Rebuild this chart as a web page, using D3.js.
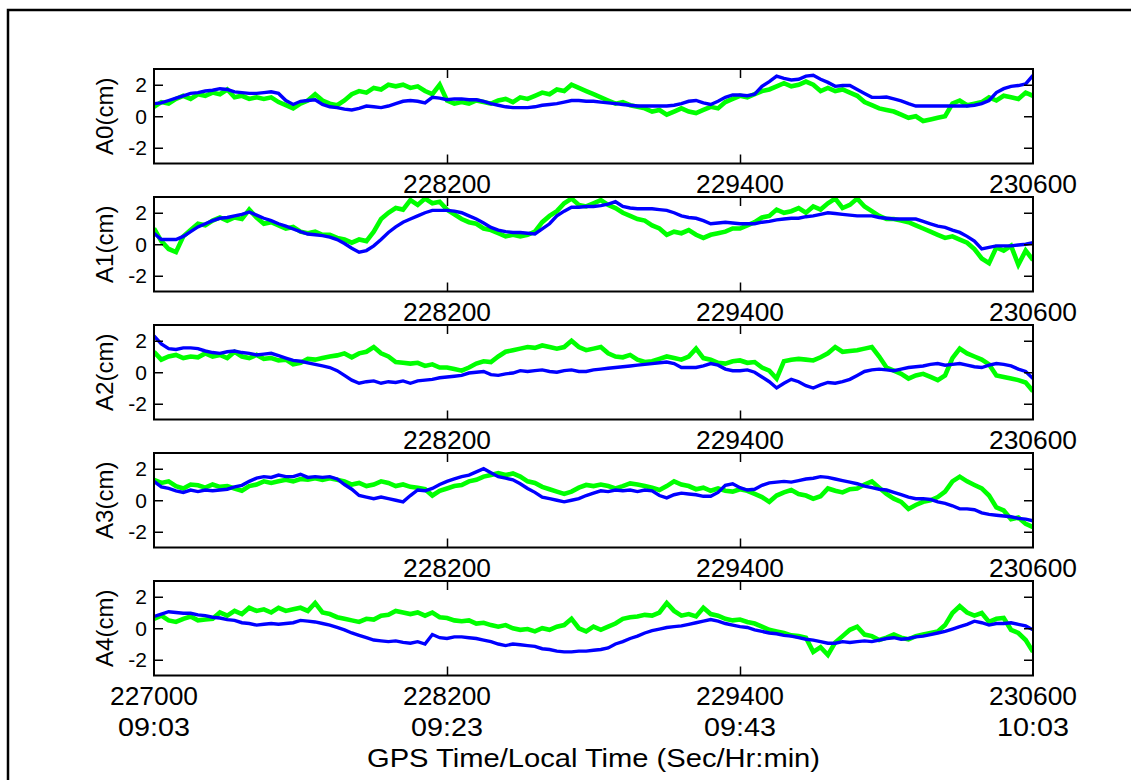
<!DOCTYPE html>
<html>
<head>
<meta charset="utf-8">
<script src="https://cdn.jsdelivr.net/npm/d3@7"></script>
<style>
  html, body { margin: 0; padding: 0; background: #fff; overflow: hidden; }
  svg text { font-family: Arial, "Liberation Sans", Helvetica, sans-serif; fill: #000; }
</style>
</head>
<body>
<svg id="chart" width="1131" height="780"></svg>
<script>
// GPS time of each sample (seconds), one every 30 s
const sampleTimes = d3.range(227000, 230601, 30);

const panelLabels = ["A0(cm)", "A1(cm)", "A2(cm)", "A3(cm)", "A4(cm)"];
const xTickValues = [227000, 228200, 229400, 230600];
const clockLabels = ["09:03", "09:23", "09:43", "10:03"];
const yTickValues = [-2, 0, 2];
const xTitle = "GPS Time/Local Time (Sec/Hr:min)";

// Antenna offsets (cm), green series
const greenA0 = [0.6,0.9,0.8,1.1,1.3,1.1,1.4,1.3,1.5,1.4,
1.7,1.2,1.3,1.1,1.2,1.1,1.2,0.9,0.7,0.5,
0.8,1.0,1.4,1.0,0.8,0.7,1.0,1.4,1.6,1.5,
1.8,1.7,2.0,1.9,2.0,1.8,1.9,1.6,1.4,2.0,
1.0,0.8,0.9,0.8,1.0,0.9,0.8,1.0,1.1,0.9,
1.2,1.1,1.3,1.5,1.4,1.7,1.6,2.0,1.8,1.6,
1.4,1.2,1.0,0.8,0.9,0.7,0.6,0.5,0.3,0.4,
0.1,0.3,0.5,0.3,0.2,0.4,0.6,0.5,0.9,1.1,
1.3,1.2,1.4,1.6,1.7,1.9,2.1,1.9,2.0,2.2,
2.0,1.6,1.8,1.6,1.7,1.5,1.3,0.9,0.7,0.5,
0.4,0.3,0.1,-0.1,0.0,-0.3,-0.2,-0.1,0.0,0.8,
1.0,0.7,0.8,0.9,1.2,1.0,1.3,1.2,1.1,1.5,
1.3];
const greenA1 = [1.0,0.2,-0.3,-0.5,0.5,0.9,1.3,1.2,1.5,1.7,
1.5,1.7,1.6,2.2,1.7,1.3,1.4,1.2,1.0,1.1,
0.8,0.7,0.8,0.6,0.6,0.4,0.3,0.1,0.3,0.2,
0.8,1.6,2.0,2.3,2.2,2.8,2.5,2.9,2.6,2.7,
2.2,1.9,1.6,1.4,1.3,1.0,0.9,0.7,0.5,0.6,
0.5,0.6,0.8,1.4,1.8,2.1,2.6,2.9,2.5,2.4,
2.6,2.8,2.5,2.3,2.0,1.8,1.6,1.5,1.2,1.0,
0.6,0.8,0.7,0.9,0.6,0.4,0.6,0.7,0.8,1.0,
1.0,1.2,1.4,1.7,1.8,2.2,2.0,2.1,2.3,2.0,
2.4,2.2,2.6,2.9,2.3,2.5,2.9,2.4,2.1,1.8,
1.6,1.6,1.5,1.4,1.2,1.0,0.8,0.6,0.4,0.5,
0.3,0.1,-0.3,-0.9,-1.2,-0.2,-0.4,-0.1,-1.3,-0.4,
-1.0];
const greenA2 = [1.3,0.8,1.0,1.1,0.9,1.0,0.95,1.2,1.0,1.1,
0.9,1.3,1.0,0.9,1.1,0.85,0.9,0.75,0.8,0.5,
0.6,0.85,0.8,0.9,1.0,1.07,1.2,0.95,1.2,1.3,
1.6,1.2,1.0,0.65,0.6,0.55,0.6,0.4,0.5,0.3,
0.3,0.2,0.1,0.3,0.55,0.7,0.65,1.0,1.3,1.4,
1.5,1.6,1.55,1.7,1.6,1.5,1.6,2.0,1.6,1.4,
1.5,1.6,1.2,1.0,0.95,1.1,0.8,0.65,0.7,0.85,
1.0,0.9,0.8,1.0,1.5,0.9,0.8,0.6,0.55,0.7,
0.75,0.6,0.65,0.3,0.1,-0.4,0.7,0.8,0.85,0.8,
0.75,0.95,1.2,1.6,1.3,1.35,1.4,1.5,1.6,1.0,
0.3,0.1,-0.1,-0.4,-0.2,-0.1,-0.3,-0.5,-0.2,0.9,
1.5,1.2,1.0,0.8,0.5,-0.2,-0.3,-0.4,-0.5,-0.65,
-1.2];
const greenA3 = [1.3,1.1,1.2,0.9,0.75,1.0,0.95,0.8,1.0,0.85,
0.9,0.75,0.6,0.9,1.0,1.2,1.1,1.2,1.3,1.2,
1.35,1.3,1.4,1.3,1.4,1.3,1.2,1.0,1.1,0.9,
1.0,1.2,1.1,0.9,1.0,0.85,0.8,0.7,0.3,0.6,
0.75,0.9,0.97,1.2,1.3,1.5,1.6,1.72,1.6,1.7,
1.5,1.2,1.1,0.85,0.7,0.55,0.4,0.55,0.8,0.97,
0.9,1.0,0.9,0.75,0.9,1.07,1.0,0.9,0.8,0.65,
0.9,1.2,1.0,0.9,0.7,0.8,0.6,0.75,0.6,0.55,
0.7,0.6,0.4,0.2,-0.1,0.3,0.5,0.65,0.4,0.3,
0.1,0.25,0.75,0.6,0.5,0.7,0.75,1.0,1.2,0.8,
0.4,0.1,-0.1,-0.55,-0.3,-0.1,0.0,0.2,0.55,1.2,
1.5,1.2,0.97,0.75,0.3,-0.45,-0.65,-1.2,-1.1,-1.5,
-1.7];
const greenA4 = [0.6,0.8,0.5,0.4,0.6,0.75,0.5,0.55,0.6,1.0,
0.8,1.1,0.9,1.3,1.1,1.2,1.0,1.3,1.1,1.2,
1.3,1.1,1.6,1.0,0.9,0.7,0.6,0.5,0.4,0.6,
0.55,0.8,0.85,1.1,1.0,0.9,1.0,0.8,1.0,0.7,
0.65,0.5,0.45,0.5,0.3,0.35,0.2,0.1,0.2,0.0,
-0.1,-0.05,-0.2,0.0,-0.1,0.1,0.2,0.6,0.0,-0.2,
0.1,-0.1,0.1,0.3,0.6,0.7,0.75,0.85,0.8,1.0,
1.6,1.1,0.8,0.9,0.75,1.3,0.9,0.8,0.6,0.5,
0.55,0.4,0.3,0.1,-0.1,-0.2,-0.3,-0.45,-0.5,-0.6,
-1.5,-1.2,-1.7,-0.9,-0.5,-0.1,0.1,-0.4,-0.5,-0.75,
-0.6,-0.4,-0.6,-0.7,-0.5,-0.4,-0.3,-0.2,0.2,0.97,
1.4,1.0,0.8,0.97,0.4,0.6,0.65,-0.1,-0.3,-0.75,
-1.5];

// Antenna offsets (cm), blue series
const blueA0 = [0.8,0.85,1.0,1.15,1.3,1.45,1.5,1.6,1.65,1.75,
1.7,1.55,1.5,1.45,1.45,1.5,1.55,1.45,1.0,0.75,
0.95,1.0,1.05,0.75,0.6,0.55,0.45,0.4,0.5,0.65,
0.6,0.55,0.65,0.8,0.95,1.0,0.95,0.85,1.2,1.15,
1.05,1.1,1.1,1.05,1.05,0.95,0.8,0.7,0.6,0.55,
0.55,0.55,0.6,0.7,0.75,0.8,0.9,1.0,1.0,0.95,
0.95,0.9,0.85,0.8,0.75,0.7,0.65,0.65,0.65,0.65,
0.65,0.7,0.8,0.95,1.0,0.85,0.75,0.95,1.2,1.35,
1.35,1.3,1.4,1.9,2.2,2.55,2.4,2.3,2.35,2.55,
2.6,2.35,2.15,1.9,1.95,1.95,1.7,1.45,1.2,1.2,
1.22,1.1,0.97,0.8,0.65,0.65,0.65,0.65,0.65,0.65,
0.65,0.65,0.7,0.8,1.0,1.5,1.75,1.9,1.95,2.05,
2.6];
const blueA1 = [0.7,0.3,0.3,0.3,0.5,0.8,1.1,1.3,1.5,1.65,
1.7,1.8,1.9,2.05,1.85,1.65,1.5,1.3,1.15,0.97,
0.8,0.65,0.6,0.55,0.45,0.3,0.05,-0.25,-0.5,-0.4,
-0.1,0.3,0.75,1.1,1.4,1.6,1.8,2.0,2.15,2.15,
2.15,2.1,2.0,1.8,1.6,1.35,1.07,0.9,0.8,0.75,
0.75,0.7,0.65,0.97,1.3,1.8,2.1,2.35,2.35,2.4,
2.4,2.45,2.55,2.7,2.4,2.3,2.25,2.25,2.25,2.2,
2.15,2.0,1.8,1.7,1.65,1.5,1.3,1.35,1.4,1.35,
1.3,1.3,1.3,1.4,1.45,1.55,1.6,1.65,1.65,1.75,
1.8,1.9,2.0,1.95,1.9,1.85,1.8,1.8,1.8,1.7,
1.65,1.6,1.6,1.6,1.6,1.45,1.3,1.15,1.07,0.9,
0.75,0.5,0.2,-0.3,-0.2,-0.1,-0.1,-0.1,-0.05,0.0,
0.1];
const blueA2 = [2.3,1.8,1.5,1.45,1.55,1.55,1.5,1.35,1.25,1.2,
1.3,1.35,1.25,1.2,1.1,1.15,1.2,1.05,0.9,0.75,
0.7,0.6,0.5,0.4,0.3,0.1,-0.2,-0.5,-0.7,-0.6,
-0.55,-0.7,-0.6,-0.65,-0.55,-0.7,-0.55,-0.5,-0.45,-0.35,
-0.3,-0.25,-0.2,-0.05,0.0,0.05,-0.15,-0.2,-0.1,-0.05,
0.1,0.05,0.1,0.15,0.05,0.0,0.1,0.15,0.05,0.05,
0.15,0.2,0.25,0.3,0.35,0.4,0.45,0.5,0.55,0.6,
0.65,0.55,0.3,0.3,0.3,0.4,0.55,0.45,0.2,0.1,
0.1,0.15,0.0,-0.3,-0.6,-1.0,-0.7,-0.45,-0.6,-0.85,
-1.0,-0.8,-0.65,-0.7,-0.6,-0.45,-0.2,0.05,0.15,0.2,
0.15,0.1,0.2,0.3,0.35,0.4,0.5,0.55,0.45,0.5,
0.55,0.45,0.35,0.3,0.45,0.55,0.5,0.4,0.2,0.05,
-0.4];
const blueA3 = [1.2,0.85,0.75,0.6,0.5,0.65,0.55,0.65,0.6,0.65,
0.7,0.85,0.95,1.2,1.4,1.5,1.45,1.6,1.5,1.5,
1.65,1.45,1.5,1.45,1.5,1.35,1.0,0.7,0.3,0.2,
0.1,0.2,0.1,0.0,-0.1,0.3,0.65,0.6,0.75,1.0,
1.2,1.35,1.5,1.6,1.8,2.0,1.75,1.5,1.4,1.3,
1.05,0.75,0.5,0.2,0.1,0.0,-0.1,0.0,0.1,0.3,
0.45,0.6,0.55,0.65,0.6,0.65,0.55,0.65,0.6,0.3,
0.15,0.35,0.45,0.4,0.35,0.25,0.25,0.5,0.95,1.05,
0.8,0.65,0.7,0.95,1.1,1.15,1.2,1.15,1.25,1.35,
1.4,1.5,1.45,1.35,1.25,1.15,1.05,0.9,0.8,0.7,
0.65,0.5,0.35,0.2,0.1,0.1,0.05,-0.1,-0.2,-0.35,
-0.55,-0.55,-0.6,-0.8,-0.9,-0.95,-1.0,-1.05,-1.15,-1.2,
-1.3];
const blueA4 = [0.75,0.9,1.05,1.0,0.95,0.95,0.85,0.8,0.7,0.65,
0.55,0.5,0.35,0.3,0.2,0.25,0.3,0.25,0.3,0.35,
0.5,0.45,0.4,0.3,0.2,0.05,-0.1,-0.3,-0.45,-0.6,
-0.75,-0.8,-0.85,-0.8,-0.9,-0.95,-0.85,-1.0,-0.4,-0.6,
-0.65,-0.55,-0.55,-0.6,-0.65,-0.75,-0.85,-1.0,-1.1,-1.0,
-1.05,-1.1,-1.15,-1.3,-1.35,-1.45,-1.5,-1.5,-1.45,-1.45,
-1.4,-1.35,-1.25,-1.0,-0.85,-0.65,-0.5,-0.3,-0.15,-0.05,
0.05,0.1,0.15,0.25,0.35,0.45,0.55,0.45,0.3,0.2,
0.1,0.05,-0.1,-0.2,-0.3,-0.35,-0.45,-0.5,-0.6,-0.7,
-0.75,-0.85,-0.95,-0.95,-0.85,-0.9,-0.85,-0.8,-0.85,-0.75,
-0.65,-0.6,-0.7,-0.65,-0.55,-0.5,-0.4,-0.3,-0.2,-0.05,
0.1,0.25,0.45,0.35,0.2,0.3,0.3,0.35,0.25,0.15,
-0.1];

const greenSeries = [greenA0, greenA1, greenA2, greenA3, greenA4];
const blueSeries = [blueA0, blueA1, blueA2, blueA3, blueA4];

// ---- layout ----
const plotLeft = 154, plotRight = 1033;
const firstTop = 69, panelStep = 128, panelH = 94.5;
const tickLen = 9;

const svg = d3.select("#chart");

// page frame (runs off the right and bottom edges)
svg.append("path")
  .attr("d", "M8,790 L8,10 L1140,10")
  .attr("fill", "none").attr("stroke", "#000").attr("stroke-width", 2.5);

const x = d3.scaleLinear().domain([227000, 230600]).range([plotLeft, plotRight]);

panelLabels.forEach((label, k) => {
  const top = firstTop + panelStep * k;
  const bottom = top + panelH;
  const y = d3.scaleLinear().domain([-3, 3]).range([bottom, top]);
  const g = svg.append("g");

  g.append("clipPath").attr("id", "clip" + k)
    .append("rect")
    .attr("x", plotLeft).attr("y", top)
    .attr("width", plotRight - plotLeft).attr("height", panelH);

  const line = d3.line()
    .x((d, i) => x(sampleTimes[i]))
    .y(d => y(d));

  const traces = g.append("g").attr("clip-path", `url(#clip${k})`);
  traces.append("path")
    .datum(greenSeries[k])
    .attr("d", line)
    .attr("fill", "none").attr("stroke", "#00ff00")
    .attr("stroke-width", 4.6).attr("stroke-linejoin", "miter");
  traces.append("path")
    .datum(blueSeries[k])
    .attr("d", line)
    .attr("fill", "none").attr("stroke", "#0000ff")
    .attr("stroke-width", 3.4).attr("stroke-linejoin", "miter");

  // inward ticks on all four sides
  const styleAxis = sel => {
    sel.select(".domain").remove();
    sel.selectAll(".tick line").attr("stroke", "#000").attr("stroke-width", 1.5);
    sel.selectAll(".tick text").remove();
  };
  g.append("g").attr("transform", `translate(${plotLeft},0)`)
    .call(d3.axisLeft(y).tickValues(yTickValues).tickSize(-tickLen)).call(styleAxis);
  g.append("g").attr("transform", `translate(${plotRight},0)`)
    .call(d3.axisRight(y).tickValues(yTickValues).tickSize(-tickLen)).call(styleAxis);
  g.append("g").attr("transform", `translate(0,${bottom})`)
    .call(d3.axisBottom(x).tickValues(xTickValues.slice(1, 3)).tickSize(-tickLen)).call(styleAxis);
  g.append("g").attr("transform", `translate(0,${top})`)
    .call(d3.axisTop(x).tickValues(xTickValues.slice(1, 3)).tickSize(-tickLen)).call(styleAxis);

  // panel frame
  g.append("rect")
    .attr("x", plotLeft).attr("y", top)
    .attr("width", plotRight - plotLeft).attr("height", panelH)
    .attr("fill", "none").attr("stroke", "#000").attr("stroke-width", 2);

  // y tick labels
  g.selectAll("text.ylab").data(yTickValues).join("text")
    .attr("class", "ylab")
    .attr("x", plotLeft - 7).attr("y", d => y(d) + 7.5)
    .attr("text-anchor", "end")
    .attr("font-size", 21)
    .text(d => d3.format("d")(d).replace("−", "-"));

  // panel label
  g.append("text")
    .attr("transform", `translate(113,${(top + bottom) / 2}) rotate(-90)`)
    .attr("text-anchor", "middle")
    .attr("font-size", 24)
    .text(label);

  // x tick labels under the panel
  const isLast = k === panelLabels.length - 1;
  const shown = isLast ? xTickValues : xTickValues.slice(1);
  g.selectAll("text.xlab").data(shown).join("text")
    .attr("class", "xlab")
    .attr("x", d => x(d)).attr("y", bottom + 29)
    .attr("text-anchor", "middle")
    .attr("font-size", 25)
    .attr("textLength", 88).attr("lengthAdjust", "spacingAndGlyphs")
    .text(d => d);

  if (isLast) {
    g.selectAll("text.clock").data(xTickValues).join("text")
      .attr("class", "clock")
      .attr("x", d => x(d)).attr("y", bottom + 60)
      .attr("text-anchor", "middle")
      .attr("font-size", 25)
      .attr("textLength", 72).attr("lengthAdjust", "spacingAndGlyphs")
      .text((d, i) => clockLabels[i]);
    g.append("text")
      .attr("x", (plotLeft + plotRight) / 2).attr("y", bottom + 91)
      .attr("text-anchor", "middle")
      .attr("font-size", 25)
      .attr("textLength", 453).attr("lengthAdjust", "spacingAndGlyphs")
      .text(xTitle);
  }
});
</script>
</body>
</html>
